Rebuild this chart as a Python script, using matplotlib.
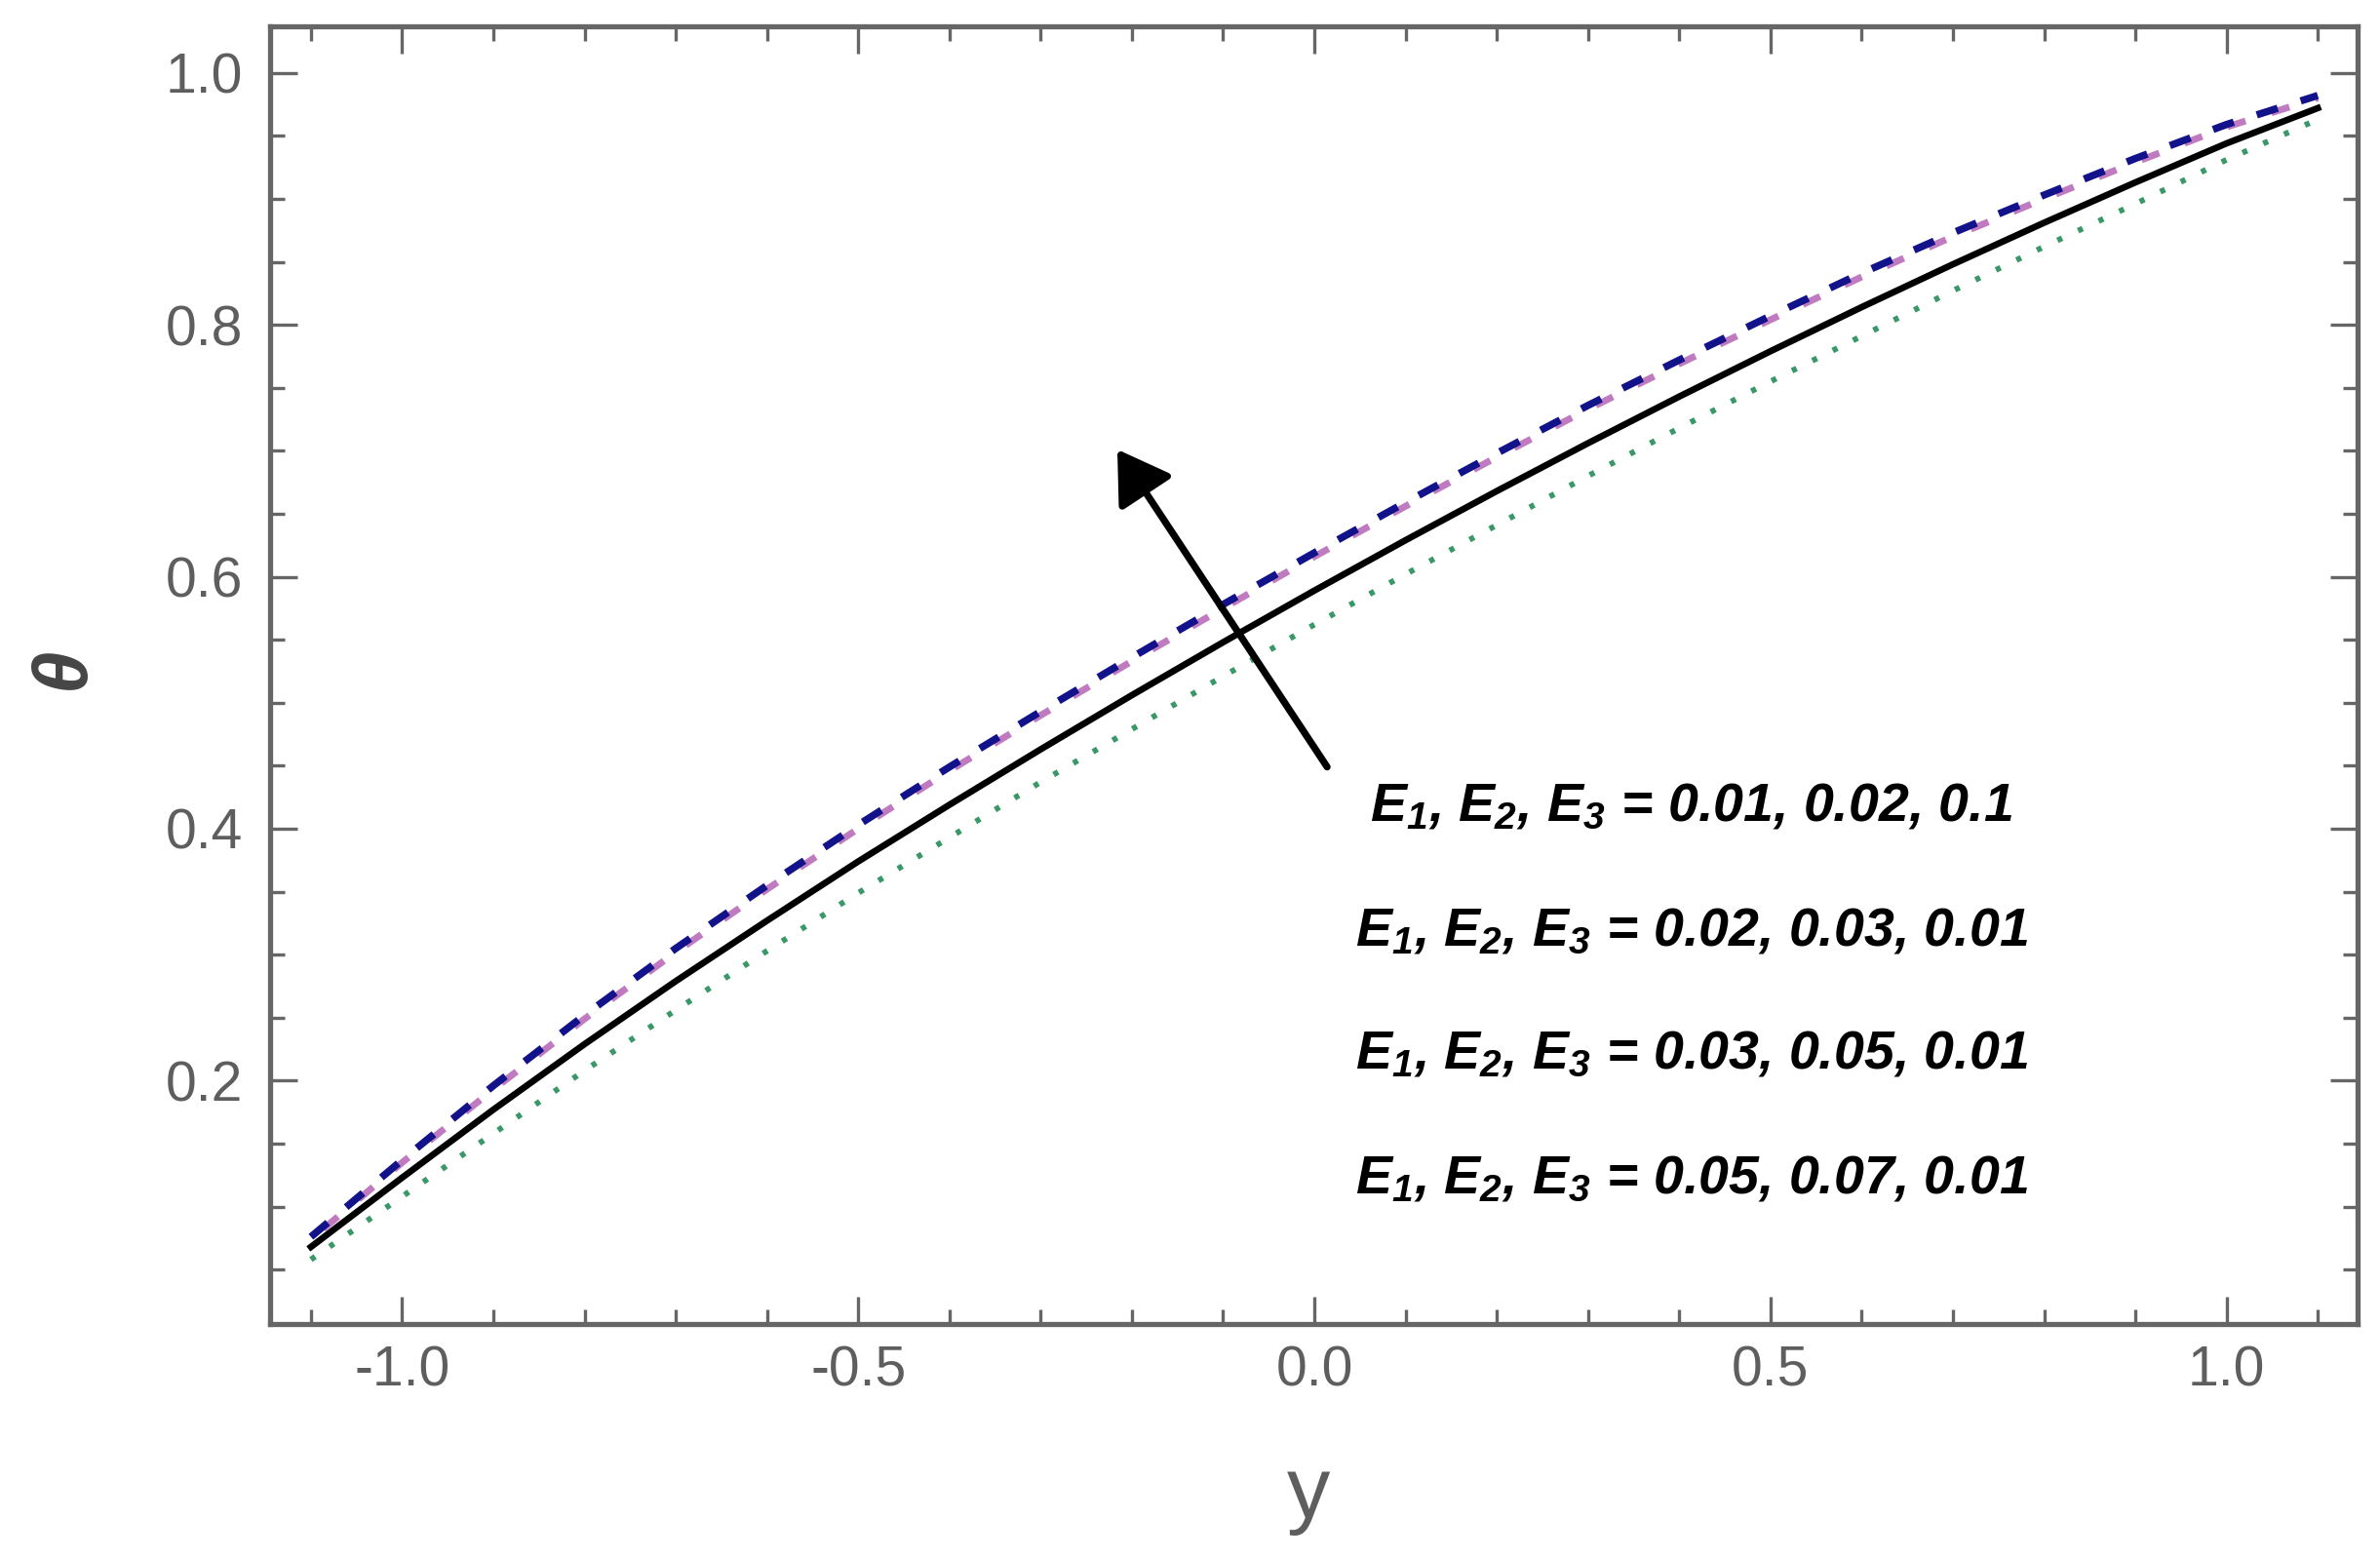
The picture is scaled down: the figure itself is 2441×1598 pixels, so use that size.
import matplotlib
matplotlib.use('Agg')
import matplotlib.pyplot as plt
from matplotlib import font_manager
from matplotlib.ticker import MultipleLocator, FixedLocator

# ---------------- data ----------------
y_vals = [-1.1, -1.0, -0.9, -0.8, -0.7, -0.6, -0.5, -0.4, -0.3, -0.2, -0.1, 0.0,
          0.1, 0.2, 0.3, 0.4, 0.5, 0.6, 0.7, 0.8, 0.9, 1.0, 1.1]
theta_green = [0.058, 0.108, 0.158, 0.208, 0.256, 0.303, 0.349, 0.393, 0.437, 0.479, 0.521, 0.562,
               0.602, 0.641, 0.680, 0.718, 0.755, 0.791, 0.827, 0.862, 0.896, 0.931, 0.963]
theta_black = [0.068, 0.123, 0.177, 0.229, 0.279, 0.327, 0.374, 0.419, 0.463, 0.506, 0.548, 0.589,
               0.629, 0.668, 0.706, 0.743, 0.779, 0.814, 0.848, 0.881, 0.913, 0.944, 0.972]
theta_pink = [0.074, 0.135, 0.193, 0.249, 0.302, 0.352, 0.400, 0.446, 0.490, 0.533, 0.575, 0.616,
              0.656, 0.695, 0.733, 0.769, 0.804, 0.838, 0.870, 0.900, 0.929, 0.957, 0.980]
theta_blue = [0.076, 0.137, 0.196, 0.252, 0.305, 0.355, 0.403, 0.449, 0.493, 0.536, 0.578, 0.619,
              0.659, 0.698, 0.736, 0.772, 0.807, 0.841, 0.873, 0.903, 0.932, 0.959, 0.982]

legend_labels = [
    r"$E_1$, $E_2$, $E_3$ = 0.01, 0.02, 0.1",
    r"$E_1$, $E_2$, $E_3$ = 0.02, 0.03, 0.01",
    r"$E_1$, $E_2$, $E_3$ = 0.03, 0.05, 0.01",
    r"$E_1$, $E_2$, $E_3$ = 0.05, 0.07, 0.01",
]
x_major = [-1.0, -0.5, 0.0, 0.5, 1.0]
x_major_labels = ["-1.0", "-0.5", "0.0", "0.5", "1.0"]
y_major = [0.2, 0.4, 0.6, 0.8, 1.0]
y_major_labels = ["0.2", "0.4", "0.6", "0.8", "1.0"]

# ---------------- fonts ----------------
names = {f.name for f in font_manager.fontManager.ttflist}
narrow = 'Liberation Sans Narrow' if 'Liberation Sans Narrow' in names else 'Liberation Sans'

plt.rcParams['font.family'] = ['Liberation Sans', 'DejaVu Sans']
plt.rcParams['axes.unicode_minus'] = False
plt.rcParams['mathtext.fontset'] = 'custom'
plt.rcParams['mathtext.it'] = f'{narrow}:italic:bold'
plt.rcParams['mathtext.rm'] = f'{narrow}:italic:bold'
plt.rcParams['mathtext.bf'] = f'{narrow}:italic:bold'

frame_col = '#666666'
label_col = '#5e5e5e'

fig = plt.figure(figsize=(24.41, 15.98), dpi=100)
ax = fig.add_axes([277 / 2441, 1 - 1357.5 / 1598, (2417.5 - 277) / 2441, (1357.5 - 26.5) / 1598])

ax.plot(y_vals, theta_green, color='#3a9868', lw=4.2, linestyle=(0, (0.9, 3.1)),
        dash_capstyle='butt', zorder=2)
ax.plot(y_vals, theta_black, color='black', lw=4.8, zorder=3)
ax.plot(y_vals, theta_pink, color='#c07abf', lw=5.0, linestyle=(4.4, (2.8, 4.0)), zorder=4)
ax.plot(y_vals, theta_blue, color='#12128a', lw=5.4, linestyle=(0, (3.0, 3.3)), zorder=5)

ax.set_xlim(-1.1448, 1.1431)
ax.set_ylim(0.0072, 1.0373)

ax.xaxis.set_major_locator(FixedLocator(x_major))
ax.set_xticklabels(x_major_labels)
ax.xaxis.set_minor_locator(MultipleLocator(0.1))
ax.yaxis.set_major_locator(FixedLocator(y_major))
ax.set_yticklabels(y_major_labels)
ax.yaxis.set_minor_locator(MultipleLocator(0.05))

for s in ax.spines.values():
    s.set_color(frame_col)
    s.set_linewidth(3.8)

ax.tick_params(which='both', direction='in', top=True, right=True,
               labeltop=False, labelright=False, color=frame_col, width=2.4)
ax.tick_params(which='major', length=20)
ax.tick_params(which='minor', length=11)
ax.tick_params(axis='x', which='major', labelsize=41, labelcolor=label_col, pad=16)
ax.tick_params(axis='y', which='major', labelsize=41, labelcolor=label_col, pad=20)

ax.set_xlabel('y', fontsize=64, color=label_col)
ax.xaxis.label.set_va('center')
ax.xaxis.set_label_coords(0.4975, -0.132)
ax.set_ylabel('θ', fontsize=56, color='#454545', fontweight='bold', fontstyle='italic')
ax.yaxis.label.set_va('center')
ax.yaxis.set_label_coords(-0.099, 0.505)

# arrow
ax.annotate('', xy=(-0.216, 0.701), xytext=(0.014, 0.449),
            arrowprops=dict(arrowstyle='-|>,head_length=1.6,head_width=1.0',
                            mutation_scale=20, lw=5.2, color='black',
                            shrinkA=0, shrinkB=0), zorder=6)

# legend-like annotations
row_y = [0.387, 0.291, 0.196, 0.100]
for lab, yy in zip(legend_labels, row_y):
    ax.text(0.681, yy, lab, transform=ax.transAxes, ha='center', va='baseline',
            fontsize=40, family=narrow, fontweight='bold', fontstyle='italic', color='black')

fig.savefig('out.png', dpi=100, facecolor='white')
